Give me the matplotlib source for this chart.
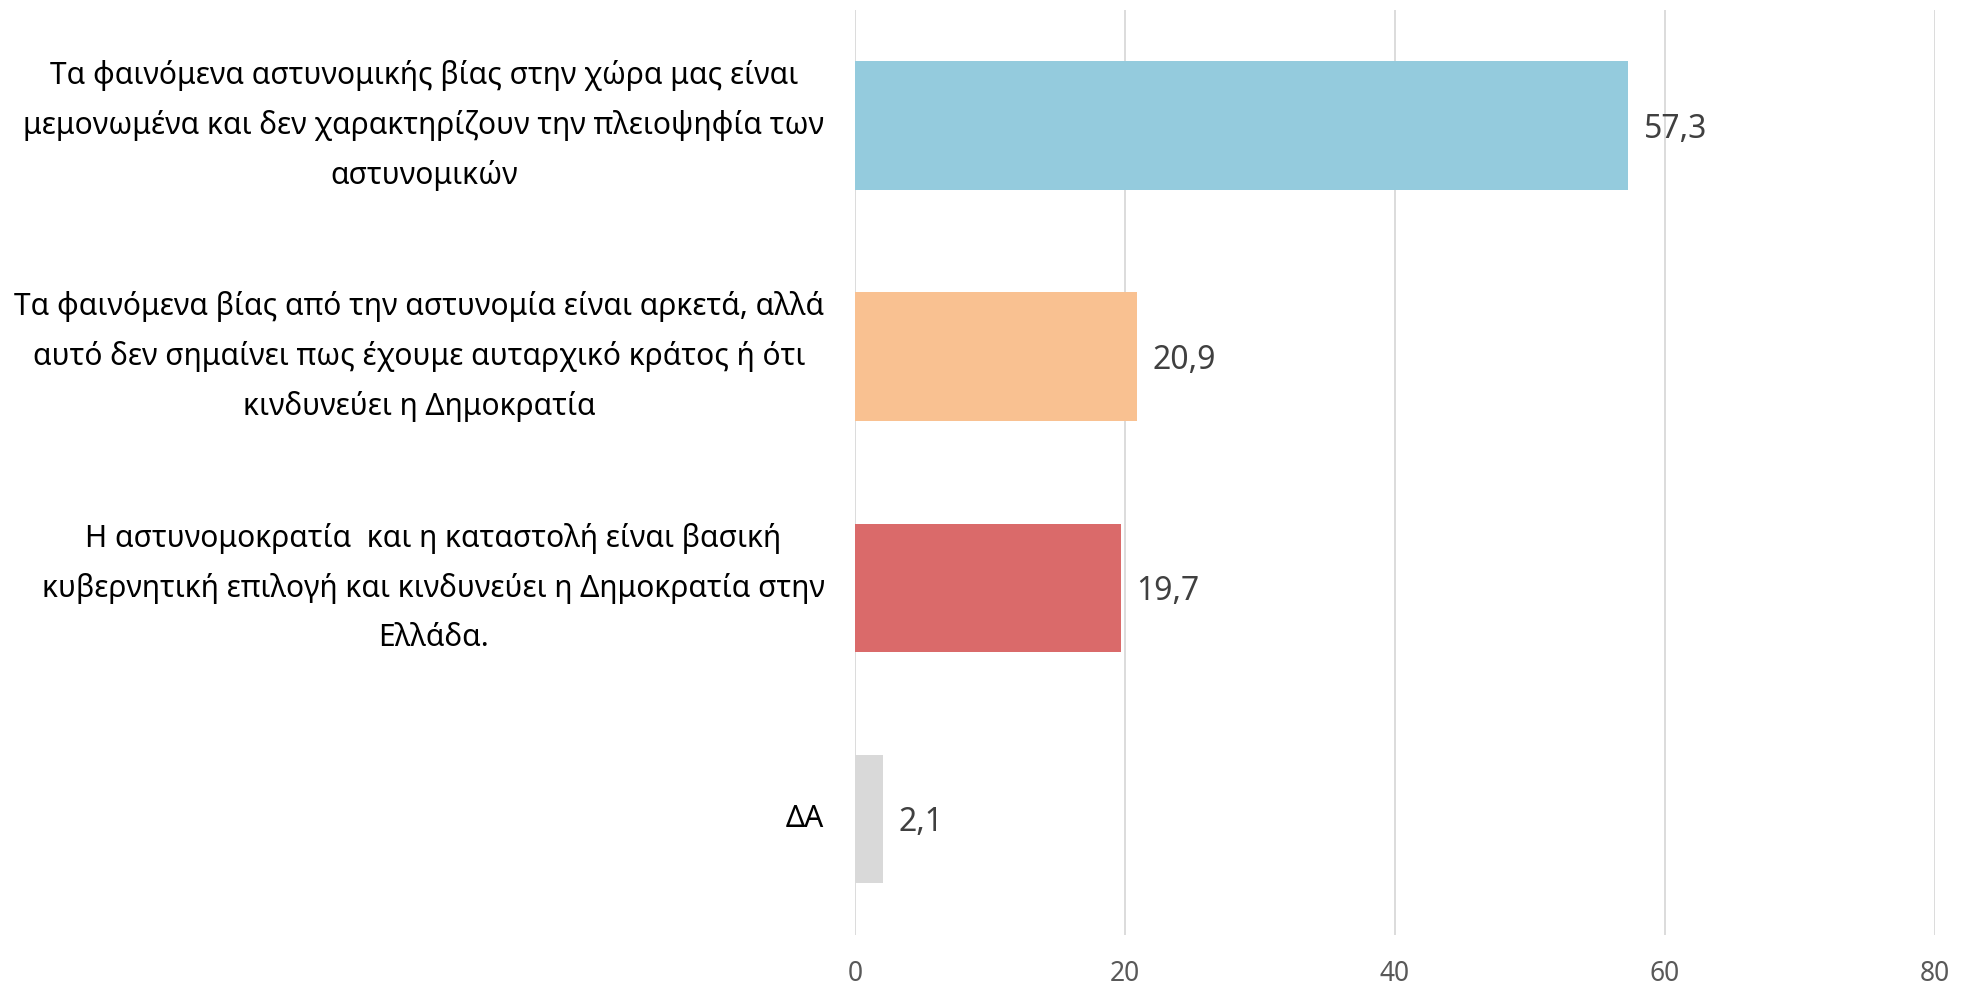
import matplotlib.pyplot as plt

categories = [
    "Τα φαινόμενα αστυνομικής βίας στην χώρα μας είναι\nμεμονωμένα και δεν χαρακτηρίζουν την πλειοψηφία των\nαστυνομικών",
    "Τα φαινόμενα βίας από την αστυνομία είναι αρκετά, αλλά\nαυτό δεν σημαίνει πως έχουμε αυταρχικό κράτος ή ότι\nκινδυνεύει η Δημοκρατία",
    "Η αστυνομοκρατία  και η καταστολή είναι βασική\nκυβερνητική επιλογή και κινδυνεύει η Δημοκρατία στην\nΕλλάδα.",
    "ΔΑ",
]
values = [57.3, 20.9, 19.7, 2.1]
value_labels = ["57,3", "20,9", "19,7", "2,1"]
colors = ["#94CBDD", "#F9C191", "#DA6A6A", "#D9D9D9"]
xticks = [0, 20, 40, 60, 80]

plt.rcParams['font.family'] = ['Noto Sans', 'DejaVu Sans']

fig = plt.figure(figsize=(19.61, 9.9), dpi=100)
ax = fig.add_axes([0.436, 0.056, 0.5507, 0.934])

pos = list(range(len(values)))
ax.barh(pos, values, height=0.555, color=colors, zorder=3)

# value labels to the right of each bar
for p, v, lab in zip(pos, values, value_labels):
    ax.annotate(lab, (v, p), xytext=(11, 0), textcoords='offset points',
                va='center_baseline', ha='left', fontsize=23, color='#404040')

ax.set_ylim(3.5, -0.5)
ax.set_xlim(0, 80)
ax.set_xticks(xticks)
ax.set_xticklabels([str(x) for x in xticks], fontsize=19, color='#595959')
ax.set_yticks(pos)
ax.set_yticklabels(categories, fontsize=21.6, color='black', linespacing=1.8)
for t in ax.get_yticklabels():
    t.set_multialignment('center')
    t.set_verticalalignment('center')

ax.tick_params(axis='both', length=0)
ax.tick_params(axis='y', pad=22)
ax.tick_params(axis='x', pad=18)
ax.xaxis.grid(True, color='#D9D9D9', linewidth=1.3, zorder=0)
for s in ax.spines.values():
    s.set_visible(False)

fig.savefig('out.png', dpi=100)
